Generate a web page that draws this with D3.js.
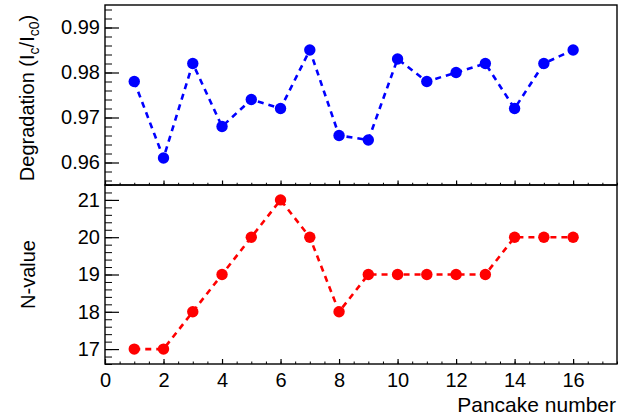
<!DOCTYPE html>
<html>
<head>
<meta charset="utf-8">
<script src="https://cdn.jsdelivr.net/npm/d3@7"></script>
<style>
  body { margin: 0; background: #fff; }
  text { font-family: "Liberation Sans", Arial, sans-serif; }
</style>
</head>
<body>
<script>
// pancake index and the two measured quantities
const pancakes = [1, 2, 3, 4, 5, 6, 7, 8, 9, 10, 11, 12, 13, 14, 15, 16];
const degradation = [0.978, 0.961, 0.982, 0.968, 0.974, 0.972, 0.985, 0.966,
                     0.965, 0.983, 0.978, 0.980, 0.982, 0.972, 0.982, 0.985];
const nValue = [17, 17, 18, 19, 20, 21, 20, 18, 19, 19, 19, 19, 19, 20, 20, 20];

const xTicks = [0, 2, 4, 6, 8, 10, 12, 14, 16];
const degTicks = [0.96, 0.97, 0.98, 0.99];
const nTicks = [17, 18, 19, 20, 21];

const w = 630, h = 420;
const left = 105, right = 617;
const top1 = 5, mid = 185, bot2 = 364;

const svg = d3.select("body").append("svg")
  .attr("width", w).attr("height", h);

const x = d3.scaleLinear().domain([0, 17.5]).range([left, right]);
const yDeg = d3.scaleLinear().domain([0.955, 0.995]).range([mid, top1]);
const yN = d3.scaleLinear().domain([16.6, 21.4]).range([bot2, mid]);

function minorsOf(scale, step) {
  const [a, b] = scale.domain();
  const out = [];
  for (let v = Math.ceil(a / step - 1e-9) * step; v <= b + 1e-9; v += step) out.push(+v.toFixed(6));
  return out;
}

function drawPanel(yScale, yTicks, fmt, minorStep, bottomY, topY, showXLabels, xMajorLen) {
  // y axis, ticks pointing into the frame
  svg.append("g")
    .attr("transform", "translate(" + left + ",0)")
    .call(d3.axisLeft(yScale).tickValues(minorsOf(yScale, minorStep)).tickSize(-7).tickFormat(""))
    .call(g => g.select(".domain").remove());
  const ya = svg.append("g")
    .attr("transform", "translate(" + left + ",0)")
    .call(d3.axisLeft(yScale).tickValues(yTicks).tickSize(-14).tickPadding(5).tickFormat(fmt))
    .call(g => g.select(".domain").remove());
  ya.selectAll("text").attr("font-size", 20).attr("fill", "#000");
  ya.selectAll("line").attr("stroke", "#000").attr("stroke-width", 1.2);

  // x axis ticks along the bottom edge
  svg.append("g")
    .attr("transform", "translate(0," + bottomY + ")")
    .call(d3.axisBottom(x).tickValues(minorsOf(x, 0.5)).tickSize(-xMajorLen / 2).tickFormat(""))
    .call(g => g.select(".domain").remove());
  const xa = svg.append("g")
    .attr("transform", "translate(0," + bottomY + ")")
    .call(d3.axisBottom(x).tickValues(xTicks).tickSize(-xMajorLen).tickPadding(9)
      .tickFormat(showXLabels ? d3.format("d") : ""))
    .call(g => g.select(".domain").remove());
  xa.selectAll("text").attr("font-size", 20).attr("fill", "#000");
  xa.selectAll("line").attr("stroke-width", 1.2);

  svg.append("rect")
    .attr("x", left).attr("y", topY)
    .attr("width", right - left).attr("height", bottomY - topY)
    .attr("fill", "none").attr("stroke", "#000").attr("stroke-width", 1.4);
}

drawPanel(yDeg, degTicks, d3.format(".2f"), 0.002, mid, top1, false, 4.5);
drawPanel(yN, nTicks, d3.format("d"), 0.2, bot2, mid, true, 5);

function drawSeries(values, yScale, color) {
  const pts = pancakes.map((p, i) => [p, values[i]]);
  svg.append("path")
    .datum(pts)
    .attr("fill", "none")
    .attr("stroke", color)
    .attr("stroke-width", 2.6)
    .attr("stroke-dasharray", "6,5")
    .attr("d", d3.line().x(d => x(d[0])).y(d => yScale(d[1])));
  svg.selectAll(null)
    .data(pts)
    .enter()
    .append("circle")
    .attr("cx", d => x(d[0]))
    .attr("cy", d => yScale(d[1]))
    .attr("r", 5.7)
    .attr("fill", color);
}

drawSeries(degradation, yDeg, "#0000ff");
drawSeries(nValue, yN, "#ff0000");

// axis titles
const degTitle = svg.append("text")
  .attr("transform", "translate(34," + 98 + ") rotate(-90)")
  .attr("text-anchor", "middle")
  .attr("font-size", 20);
degTitle.append("tspan").text("Degradation (I");
degTitle.append("tspan").attr("font-size", 14).attr("dy", 5).text("c");
degTitle.append("tspan").attr("dy", -5).text("/I");
degTitle.append("tspan").attr("font-size", 14).attr("dy", 5).text("c0");
degTitle.append("tspan").attr("dy", -5).text(")");

svg.append("text")
  .attr("transform", "translate(35," + (mid + bot2) / 2 + ") rotate(-90)")
  .attr("text-anchor", "middle")
  .attr("font-size", 20)
  .text("N-value");

svg.append("text")
  .attr("x", right - 1).attr("y", 412)
  .attr("text-anchor", "end")
  .attr("font-size", 21)
  .text("Pancake number");
</script>
</body>
</html>
